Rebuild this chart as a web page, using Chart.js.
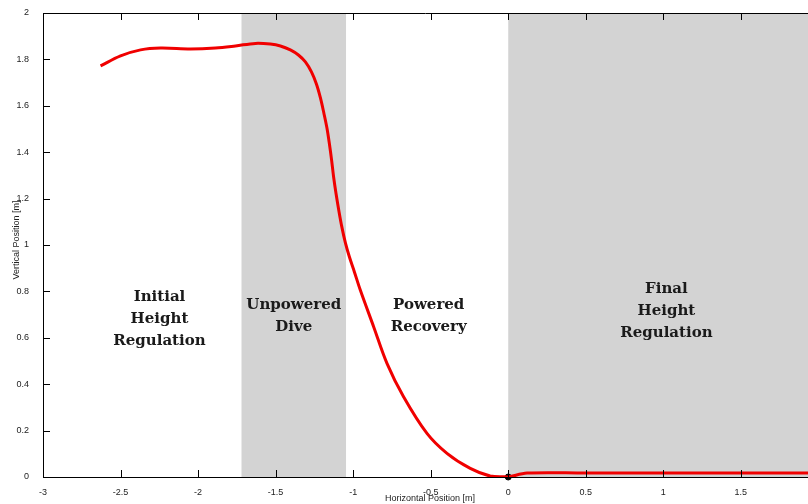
<!DOCTYPE html>
<html>
<head>
<meta charset="utf-8">
<script src="https://cdn.jsdelivr.net/npm/chart.js@4/dist/chart.umd.min.js"></script>
<style>
    html, body { margin: 0; padding: 0; background: #fff; }
    #wrap { width: 808px; height: 504px; position: relative; }
</style>
</head>
<body>
<div id="wrap"><canvas id="chart"></canvas></div>
<script>
    // trajectory
    var trajX = [-2.629, -2.500, -2.371, -2.242, -2.049, -1.888, -1.759, -1.630, -1.534, -1.469,
        -1.405, -1.353, -1.308, -1.269, -1.237, -1.211, -1.189, -1.169, -1.153, -1.139,
        -1.126, -1.111, -1.093, -1.073, -1.050, -1.024, -0.992, -0.954, -0.868, -0.782,
        -0.675, -0.524, -0.395, -0.245, -0.116, -0.019, 0, 0.122, 0.5, 1.0, 1.5, 1.933];
    var trajY = [1.772, 1.815, 1.841, 1.849, 1.845, 1.849, 1.858, 1.869, 1.866, 1.858,
        1.841, 1.819, 1.789, 1.746, 1.694, 1.634, 1.569, 1.504, 1.435, 1.366,
        1.293, 1.224, 1.151, 1.078, 1.009, 0.948, 0.884, 0.806, 0.648, 0.490,
        0.346, 0.188, 0.102, 0.037, 0.004, 0.001, 0, 0.017, 0.017, 0.017, 0.017, 0.017];

    var markerX = [0];
    var markerY = [0];

    // shaded phases
    var bandStart = [-1.72, 0];
    var bandEnd = [-1.046, 1.933];

    var phaseNames = [
        ["Initial", "Height", "Regulation"],
        ["Unpowered", "Dive"],
        ["Powered", "Recovery"],
        ["Final", "Height", "Regulation"]
    ];
    var phaseX = [-2.249, -1.383, -0.513, 1.020];
    var phaseY = [0.680, 0.693, 0.694, 0.715];

    var xTicks = [-3, -2.5, -2, -1.5, -1, -0.5, 0, 0.5, 1, 1.5];
    var yTicks = [0, 0.2, 0.4, 0.6, 0.8, 1, 1.2, 1.4, 1.6, 1.8, 2];

    var xTitle = "Horizontal Position [m]";
    var yTitle = "Vertical Position [m]";

    function toPoints(xs, ys) {
        return xs.map(function (x, i) {
            return { x: x, y: ys[i] };
        });
    }

    function setTicks(values) {
        return function (scale) {
            scale.ticks = values.map(function (v) {
                return { value: v };
            });
        };
    }

    function tickLabel(v) {
        return String(Math.round(v * 10) / 10);
    }

    var bandsPlugin = {
        id: "bands",
        beforeDatasetsDraw: function (chart) {
            var ctx = chart.ctx;
            var area = chart.chartArea;
            var xs = chart.scales.x;
            ctx.save();
            ctx.fillStyle = "#d3d3d3";
            bandStart.forEach(function (s, i) {
                var a = xs.getPixelForValue(s);
                var b = xs.getPixelForValue(bandEnd[i]);
                ctx.fillRect(a, area.top, b - a, area.bottom - area.top);
            });
            ctx.restore();
        }
    };

    var decorPlugin = {
        id: "decor",
        afterDatasetsDraw: function (chart) {
            var ctx = chart.ctx;
            var area = chart.chartArea;
            var xs = chart.scales.x;
            var ys = chart.scales.y;

            ctx.save();
            ctx.strokeStyle = "#000";
            ctx.lineWidth = 1;

            // top border
            ctx.beginPath();
            ctx.moveTo(area.left, Math.round(area.top) + 0.5);
            ctx.lineTo(area.right, Math.round(area.top) + 0.5);
            ctx.stroke();

            // inward tick marks
            ctx.beginPath();
            xTicks.forEach(function (v) {
                var px = Math.round(xs.getPixelForValue(v)) + 0.5;
                ctx.moveTo(px, area.bottom);
                ctx.lineTo(px, area.bottom - 7);
                ctx.moveTo(px, area.top);
                ctx.lineTo(px, area.top + 7);
            });
            yTicks.forEach(function (v) {
                var py = Math.round(ys.getPixelForValue(v)) + 0.5;
                ctx.moveTo(area.left, py);
                ctx.lineTo(area.left + 7, py);
            });
            ctx.stroke();

            // phase labels
            ctx.fillStyle = "#1a1a1a";
            ctx.font = "bold 15px 'DejaVu Serif'";
            ctx.textAlign = "center";
            ctx.textBaseline = "middle";
            phaseNames.forEach(function (lines, i) {
                var cx = xs.getPixelForValue(phaseX[i]);
                var cy = ys.getPixelForValue(phaseY[i]);
                var lh = 22;
                var y0 = cy - (lines.length - 1) * lh / 2;
                lines.forEach(function (t, j) {
                    ctx.fillText(t, cx, y0 + j * lh);
                });
            });

            // axis titles
            ctx.fillStyle = "#222";
            ctx.font = "9px 'Liberation Sans'";
            ctx.fillText(xTitle, 430, 499);
            ctx.translate(17, 240);
            ctx.rotate(-Math.PI / 2);
            ctx.fillText(yTitle, 0, 0);
            ctx.restore();
        }
    };

    var tickFont = { family: "'Liberation Sans', Arial, sans-serif", size: 9 };

    new Chart(document.getElementById("chart").getContext("2d"), {
        type: "line",
        data: {
            datasets: [{
                data: toPoints(trajX, trajY),
                borderColor: "#f00000",
                borderWidth: 3,
                pointRadius: 0,
                fill: false,
                tension: 0.35
            }, {
                type: "scatter",
                data: toPoints(markerX, markerY),
                backgroundColor: "#000",
                borderColor: "#000",
                pointRadius: 3,
                clip: false
            }]
        },
        options: {
            responsive: true,
            maintainAspectRatio: false,
            animation: false,
            events: [],
            layout: {
                autoPadding: false,
                padding: { top: 13, left: 0, right: 0, bottom: 0 }
            },
            plugins: {
                legend: { display: false },
                tooltip: { enabled: false }
            },
            scales: {
                x: {
                    type: "linear",
                    min: -3,
                    max: 1.933,
                    afterBuildTicks: setTicks(xTicks),
                    afterFit: function (scale) {
                        scale.height = 27;
                        scale.paddingLeft = 0;
                        scale.paddingRight = 0;
                    },
                    grid: { display: false, drawTicks: false },
                    border: { display: true, color: "#000", width: 1 },
                    ticks: {
                        font: tickFont,
                        color: "#222",
                        padding: 10,
                        maxRotation: 0,
                        autoSkip: false,
                        callback: tickLabel
                    }
                },
                y: {
                    type: "linear",
                    min: 0,
                    max: 2,
                    afterBuildTicks: setTicks(yTicks),
                    afterFit: function (scale) {
                        scale.width = 43;
                        scale.paddingTop = 0;
                        scale.paddingBottom = 0;
                    },
                    grid: { display: false, drawTicks: false },
                    border: { display: true, color: "#000", width: 1 },
                    ticks: {
                        font: tickFont,
                        color: "#222",
                        padding: 14,
                        autoSkip: false,
                        callback: tickLabel
                    }
                }
            }
        },
        plugins: [bandsPlugin, decorPlugin]
    });
</script>
</body>
</html>
